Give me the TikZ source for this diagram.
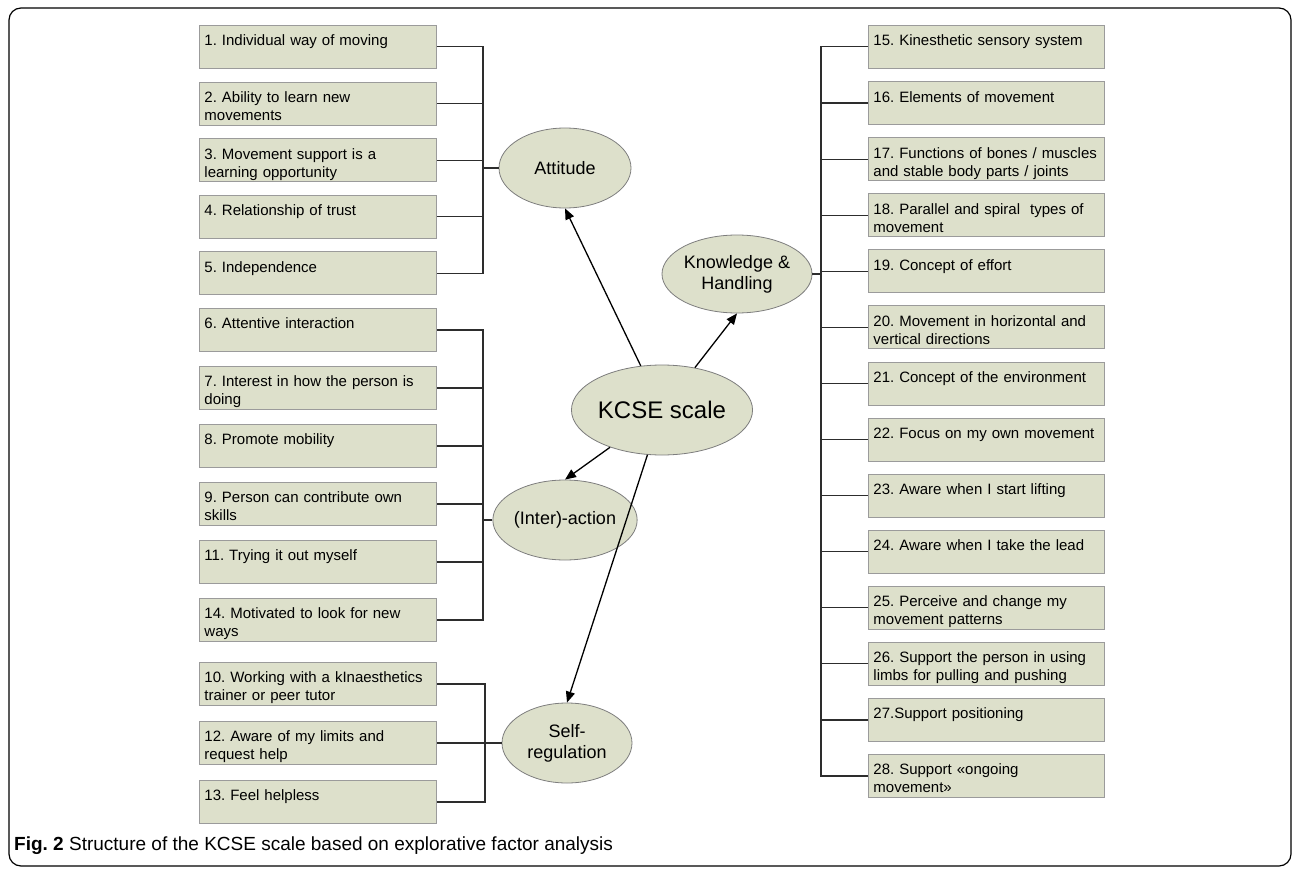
\documentclass[tikz,border=0pt]{standalone}
\usepackage{fontspec}
\setmainfont{Liberation Sans}
\usetikzlibrary{shapes.geometric,arrows.meta}
\frenchspacing
\definecolor{itemfill}{RGB}{221,224,203}
\definecolor{itemline}{RGB}{155,155,155}
\definecolor{factorline}{RGB}{125,125,125}
\definecolor{busline}{RGB}{45,45,45}
\newcommand{\itemfont}{\fontsize{15}{18}\selectfont\hyphenpenalty 10000\exhyphenpenalty 10000\relax}
\tikzset{itemnode/.style={draw=itemline,fill=itemfill,anchor=north west,line width=0.9pt,text width=227pt,align=left,inner xsep=5pt,inner ysep=0pt,text height=20.5pt,text depth=22.5pt,font=\itemfont}}
\tikzset{factornode/.style={ellipse,draw=factorline,fill=itemfill,line width=0.8pt,align=center,inner sep=0pt,font=\fontsize{18}{21}\selectfont}}
\tikzset{busline/.style={draw=busline,line width=1.1pt}}
\tikzset{arrowline/.style={draw=black,line width=1.3pt,-{Triangle[length=11pt,width=9pt]}}}

\begin{document}
\hyphenpenalty=10000
\exhyphenpenalty=10000
\begin{tikzpicture}[x=1pt,y=-1pt]
		\useasboundingbox (0,0) rectangle (1292,869);
		\draw[line width=1.2pt,rounded corners=12pt] (9,8) rectangle (1291,866);
		%
		\node[itemnode] (q1) at (199,25) {1. Individual way of moving};
		\node[itemnode] (q2) at (199,81.6) {2. Ability to learn new movements};
		\node[itemnode] (q3) at (199,138.2) {3. Movement support is a learning opportunity};
		\node[itemnode] (q4) at (199,194.8) {4. Relationship of trust};
		\node[itemnode] (q5) at (199,251.4) {5. Independence};
		%
		\node[itemnode] (q6) at (199,308) {6. Attentive interaction};
		\node[itemnode] (q7) at (199,366) {7. Interest in how the person is doing};
		\node[itemnode] (q8) at (199,424) {8. Promote mobility};
		\node[itemnode] (q9) at (199,482) {9. Person can contribute own skills};
		\node[itemnode] (q11) at (199,540) {11. Trying it out myself};
		\node[itemnode] (q14) at (199,598) {14. Motivated to look for new ways};
		%
		\node[itemnode] (q10) at (199,662) {10. Working with a kInaesthetics trainer or peer tutor};
		\node[itemnode] (q12) at (199,721) {12. Aware of my limits and request help};
		\node[itemnode] (q13) at (199,780) {13. Feel helpless};
		%
		\node[itemnode,text width=226pt] (q15) at (868,25) {15. Kinesthetic sensory system};
		\node[itemnode,text width=226pt] (q16) at (868,81.1) {16. Elements of movement};
		\node[itemnode,text width=226pt] (q17) at (868,137.2) {17. Functions of bones / muscles and stable body parts / joints};
		\node[itemnode,text width=226pt] (q18) at (868,193.2) {18. Parallel and spiral\ \ types of movement};
		\node[itemnode,text width=226pt] (q19) at (868,249.3) {19. Concept of effort};
		\node[itemnode,text width=226pt] (q20) at (868,305.4) {20. Movement in horizontal and vertical directions};
		\node[itemnode,text width=226pt] (q21) at (868,361.5) {21. Concept of the environment};
		\node[itemnode,text width=226pt] (q22) at (868,417.6) {22. Focus on my own movement};
		\node[itemnode,text width=226pt] (q23) at (868,473.6) {23. Aware when I start lifting};
		\node[itemnode,text width=226pt] (q24) at (868,529.7) {24. Aware when I take the lead};
		\node[itemnode,text width=226pt] (q25) at (868,585.8) {25. Perceive and change my movement patterns};
		\node[itemnode,text width=226pt] (q26) at (868,641.9) {26. Support the person in using limbs for pulling and pushing};
		\node[itemnode,text width=226pt] (q27) at (868,698) {27.Support positioning};
		\node[itemnode,text width=226pt] (q28) at (868,754) {28. Support «ongoing movement»};
		%
		\node[factornode,minimum width=132pt,minimum height=80pt] (att) at (565,168) {Attitude};
		\node[factornode,minimum width=132pt,minimum height=80pt] (inter) at (565,520) {(Inter)-action};
		\node[factornode,minimum width=130pt,minimum height=80pt] (self) at (567,743) {Self-\\regulation};
		\node[factornode,minimum width=125pt,minimum height=78pt] (know) at (737,274) {Knowledge \&\\Handling};
		\node[factornode,minimum width=151pt,minimum height=90pt,font=\fontsize{24}{28}\selectfont] (kcse) at (662,410) {KCSE scale};
		%
		\coordinate (attbus) at (483,168);
		\coordinate (interbus) at (483,520);
		\coordinate (selfbus) at (485,743);
		\coordinate (knowbus) at (821,274);
		\draw[busline] (att.west) -- (attbus);
		\draw[busline] (inter.west) -- (interbus);
		\draw[busline] (self.west) -- (selfbus);
		\draw[busline] (know.east) -- (knowbus);
		\foreach \n in {1,...,5} \draw[busline] (q\n.east) -| (attbus);
		\foreach \n in {6,7,8,9,11,14} \draw[busline] (q\n.east) -| (interbus);
		\foreach \n in {10,12,13} \draw[busline] (q\n.east) -| (selfbus);
		\foreach \n in {15,...,28} \draw[busline] (q\n.west) -| (knowbus);
		%
		\draw[arrowline] (kcse) -- (att.south);
		\draw[arrowline] (kcse) -- (know.south);
		\draw[arrowline] (kcse) -- (inter.north);
		\draw[arrowline] (kcse) -- (self.north);
		%
		\node[anchor=base west,inner sep=0pt,font=\fontsize{19}{22}\selectfont] (caption) at (14,850) {\textbf{Fig. 2} Structure of the KCSE scale based on explorative factor analysis};
	\end{tikzpicture}
\end{document}
